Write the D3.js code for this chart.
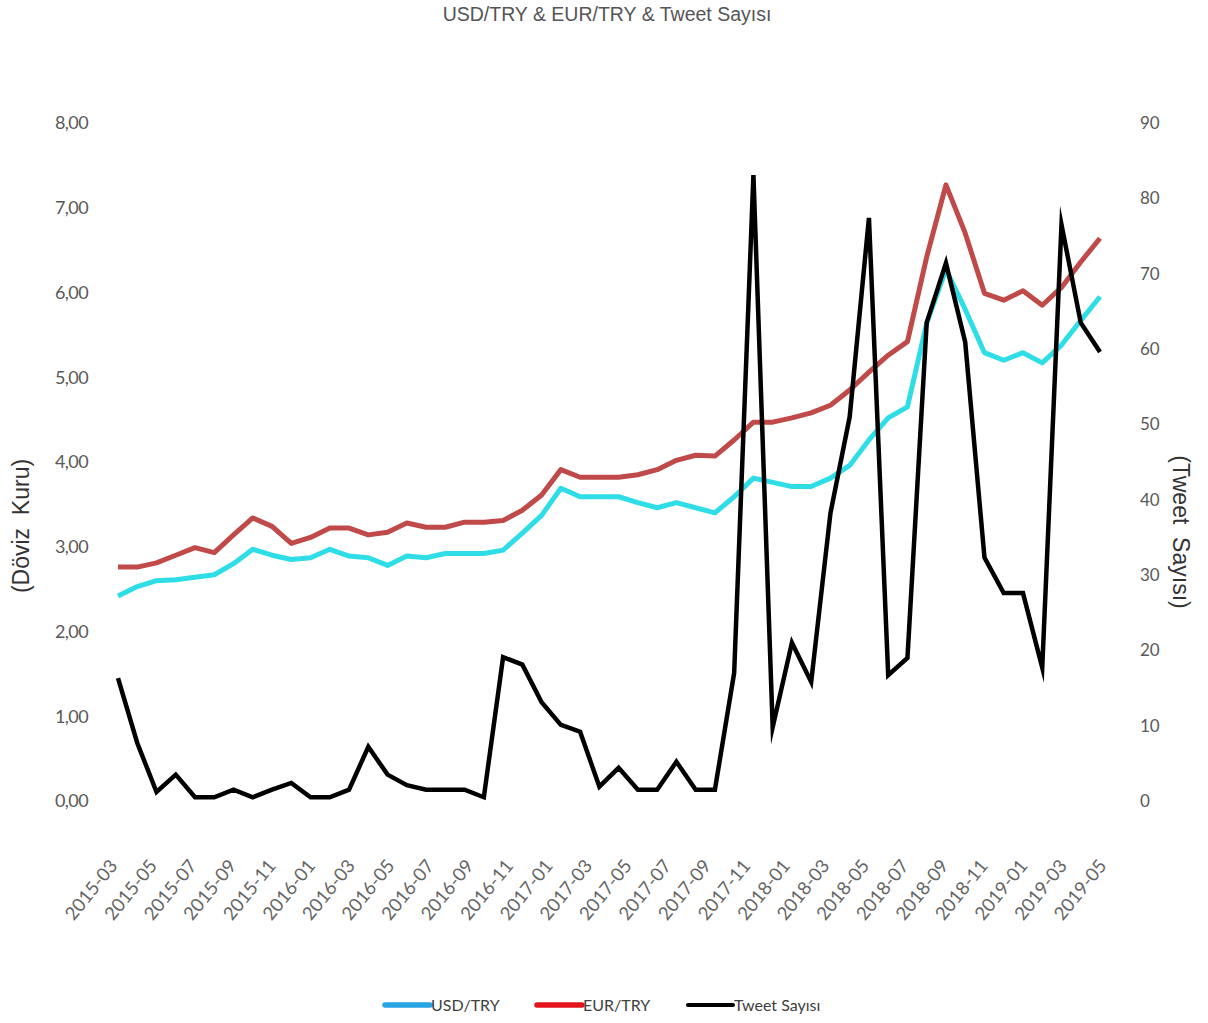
<!DOCTYPE html>
<html>
<head>
<meta charset="utf-8">
<script src="https://cdn.jsdelivr.net/npm/d3@7"></script>
<style>
  html, body { margin: 0; padding: 0; background: #fff; }
  svg { display: block; }
</style>
</head>
<body>
<svg id="chart" width="1208" height="1023"></svg>
<script>
const months = ["2015-01","2015-02","2015-03","2015-04","2015-05","2015-06","2015-07","2015-08","2015-09","2015-10","2015-11","2015-12",
  "2016-01","2016-02","2016-03","2016-04","2016-05","2016-06","2016-07","2016-08","2016-09","2016-10","2016-11","2016-12",
  "2017-01","2017-02","2017-03","2017-04","2017-05","2017-06","2017-07","2017-08","2017-09","2017-10","2017-11","2017-12",
  "2018-01","2018-02","2018-03","2018-04","2018-05","2018-06","2018-07","2018-08","2018-09","2018-10","2018-11","2018-12",
  "2019-01","2019-02","2019-03","2019-04"];

const usdTry = [2.42,2.53,2.60,2.61,2.64,2.67,2.80,2.97,2.90,2.85,2.87,2.97,
  2.89,2.87,2.78,2.89,2.87,2.92,2.92,2.92,2.96,3.16,3.37,3.69,
  3.59,3.59,3.59,3.52,3.46,3.52,3.46,3.40,3.59,3.81,3.76,3.71,
  3.71,3.81,3.96,4.26,4.52,4.65,5.64,6.27,5.80,5.29,5.20,5.29,
  5.17,5.38,5.67,5.95];

const eurTry = [2.76,2.76,2.81,2.90,2.99,2.93,3.14,3.34,3.24,3.04,3.11,3.22,
  3.22,3.14,3.17,3.28,3.23,3.23,3.29,3.29,3.31,3.43,3.61,3.91,
  3.82,3.82,3.82,3.85,3.91,4.02,4.08,4.07,4.26,4.47,4.47,4.52,
  4.58,4.67,4.85,5.06,5.26,5.42,6.42,7.27,6.70,5.99,5.91,6.02,
  5.85,6.06,6.36,6.64];

const tweetCount = [16.3,7.7,1.2,3.5,0.5,0.5,1.5,0.5,1.5,2.4,0.5,0.5,
  1.5,7.2,3.5,2.1,1.5,1.5,1.5,0.5,19.1,18.1,13.1,10.1,
  9.2,1.9,4.4,1.5,1.5,5.2,1.5,1.5,17.0,83.1,9.8,21.0,
  15.8,38.2,51.0,77.4,16.7,19.0,63.5,71.4,60.9,32.3,27.6,27.6,
  17.7,76.5,63.5,59.6];

const xLabels = ["2015-03","2015-05","2015-07","2015-09","2015-11","2016-01","2016-03","2016-05","2016-07","2016-09","2016-11",
  "2017-01","2017-03","2017-05","2017-07","2017-09","2017-11","2018-01","2018-03","2018-05","2018-07","2018-09","2018-11",
  "2019-01","2019-03","2019-05"];

const leftTicks = [0,1,2,3,4,5,6,7,8];
const rightTicks = [0,10,20,30,40,50,60,70,80,90];

const seriesNames = ["USD/TRY","EUR/TRY","Tweet Sayısı"];
const legendColors = ["#27a4e4","#e3141c","#000000"];

const svg = d3.select("#chart");

const x = d3.scalePoint().domain(months).range([118, 1100]);
const xl = d3.scalePoint().domain(xLabels).range([113, 1102]);
const yL = d3.scaleLinear().domain([0, 8]).range([801, 123]);
const yR = d3.scaleLinear().domain([0, 90]).range([801, 123]);

const locale = d3.formatLocale({decimal: ",", thousands: ".", grouping: [3], currency: ["", ""]});
const fmtL = locale.format(".2f");

const tickFont = "Lato, 'Open Sans', sans-serif";
const tickColor = "#595959";

// Title
svg.append("text")
  .attr("x", 607).attr("y", 21)
  .attr("text-anchor", "middle")
  .style("font-family", "'Liberation Sans', Arial, sans-serif")
  .style("font-size", "19.5px")
  .style("fill", "#555")
  .text("USD/TRY & EUR/TRY & Tweet Sayısı");

// Left axis
const gL = svg.append("g").attr("transform", "translate(88,0)")
  .call(d3.axisLeft(yL).tickValues(leftTicks).tickFormat(fmtL).tickSize(0).tickPadding(0));
gL.select(".domain").remove();
gL.selectAll("text").style("font-family", tickFont).style("font-size", "18px").style("fill", tickColor).attr("letter-spacing", "-0.6");

// Right axis
const gR = svg.append("g").attr("transform", "translate(1140,0)")
  .call(d3.axisRight(yR).tickValues(rightTicks).tickSize(0).tickPadding(0));
gR.select(".domain").remove();
gR.selectAll("text").style("font-family", tickFont).style("font-size", "17px").style("fill", tickColor);

// X axis labels
const gX = svg.append("g").attr("transform", "translate(0,862)")
  .call(d3.axisBottom(xl).tickSize(0));
gX.select(".domain").remove();
gX.selectAll("text")
  .attr("x", 0).attr("y", 0).attr("dy", "0.35em")
  .attr("transform", "rotate(-51)")
  .style("text-anchor", "end")
  .style("font-family", tickFont).style("font-size", "18.5px").style("fill", "#666");

// Axis titles
svg.append("text")
  .attr("transform", "translate(29,526) rotate(-90)")
  .attr("text-anchor", "middle")
  .style("font-family", "'Liberation Sans', Arial, sans-serif")
  .style("font-size", "23px").style("fill", "#333")
  .style("white-space", "pre")
  .text("(Döviz  Kuru)");

svg.append("text")
  .attr("transform", "translate(1173,532) rotate(90)")
  .attr("text-anchor", "middle")
  .style("font-family", "'Liberation Sans', Arial, sans-serif")
  .style("font-size", "23px").style("fill", "#333")
  .style("white-space", "pre")
  .text("(Tweet  Sayısı)");

// Lines
const lineL = d3.line().x((d, i) => x(months[i])).y(d => yL(d));
const lineR = d3.line().x((d, i) => x(months[i])).y(d => yR(d));

svg.append("path").datum(usdTry).attr("d", lineL)
  .attr("fill", "none").attr("stroke", "#2fdde6").attr("stroke-width", 5).attr("stroke-linejoin", "round");
svg.append("path").datum(eurTry).attr("d", lineL)
  .attr("fill", "none").attr("stroke", "#bf4a49").attr("stroke-width", 5).attr("stroke-linejoin", "round");
svg.append("path").datum(tweetCount).attr("d", lineR)
  .attr("fill", "none").attr("stroke", "#000").attr("stroke-width", 4.5).attr("stroke-linejoin", "miter").attr("stroke-miterlimit", 10);

// Legend
const legendX = [385, 537, 688];
const lg = svg.append("g");
seriesNames.forEach((name, i) => {
  lg.append("line")
    .attr("x1", legendX[i]).attr("x2", legendX[i] + 45)
    .attr("y1", 1005).attr("y2", 1005)
    .attr("stroke", legendColors[i]).attr("stroke-width", i === 2 ? 4 : 5.5)
    .attr("stroke-linecap", "round");
  lg.append("text")
    .attr("x", legendX[i] + 46).attr("y", 1005).attr("dy", "0.35em")
    .style("font-family", tickFont).style("font-size", "16px").style("fill", "#404040")
    .text(name);
});
</script>
</body>
</html>
